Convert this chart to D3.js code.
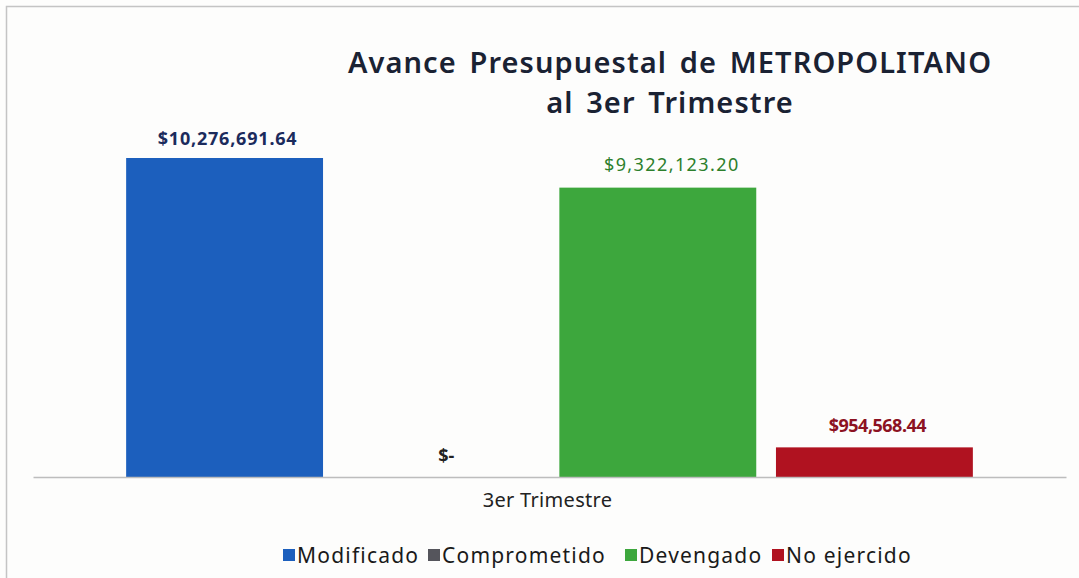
<!DOCTYPE html>
<html>
<head>
<meta charset="utf-8">
<script src="https://cdn.jsdelivr.net/npm/d3@7"></script>
<style>
  body { margin: 0; background: #fdfdfc; }
  svg { display: block; }
</style>
</head>
<body>
<div id="viz"></div>
<script>
// avance presupuestal, one quarter, four series

const categories = ['3er Trimestre'];
const seriesNames = ['Modificado', 'Comprometido', 'Devengado', 'No ejercido'];
const seriesValues = [10276691.64, 0, 9322123.20, 954568.44];
const valueLabels = ['$10,276,691.64', '$-', '$9,322,123.20', '$954,568.44'];
const seriesColors = ['#1c5fbd', '#55555c', '#3da73d', '#b01220'];
const labelColors = ['#1b2b5c', '#222222', '#2c7f2c', '#8c1222'];

function drawChart() {
    var dimensions = {
        width: 1079,
        height: 578,
        margins: { left: 33, right: 13, top: 158, bottom: 101 }
    }
    dimensions.boundedWidth = dimensions.width - dimensions.margins.left - dimensions.margins.right;
    dimensions.boundedHeight = dimensions.height - dimensions.margins.top - dimensions.margins.bottom;

    const viz = d3.select('#viz').append('svg')
        .attr('width', dimensions.width)
        .attr('height', dimensions.height)
        .style('font-family', '"Noto Sans", sans-serif');

    // scan frame (left and top edges only)
    viz.append('path')
        .attr('d', 'M6.5,578 L6.5,6.5 L1079,6.5')
        .attr('fill', 'none')
        .attr('stroke', '#c4c4c4')
        .attr('stroke-width', 1.5);

    // title
    const title = viz.append('text')
        .attr('text-anchor', 'middle')
        .attr('fill', '#1a2233')
        .style('font-weight', 600)
        .style('font-size', '29px')
        .style('letter-spacing', '1.1px')
        .style('word-spacing', '4px');
    title.append('tspan').attr('x', 670).attr('y', 73).text('Avance Presupuestal de METROPOLITANO');
    title.append('tspan').attr('x', 670).attr('y', 113).text('al 3er Trimestre');

    const bounds = viz.append('g')
        .style('transform', `translate(${dimensions.margins.left}px, ${dimensions.margins.top}px)`);

    const x0 = d3.scaleBand()
        .domain(categories)
        .range([0, dimensions.boundedWidth])
        .paddingOuter(0.11);

    const x1 = d3.scaleBand()
        .domain(seriesNames)
        .range([0, x0.bandwidth()])
        .paddingInner(0.091);

    const yScale = d3.scaleLinear()
        .domain([0, d3.max(seriesValues)])
        .range([dimensions.boundedHeight, 0]);

    const data = seriesNames.map((name, i) => ({
        name: name, value: seriesValues[i], label: valueLabels[i],
        color: seriesColors[i], labelColor: labelColors[i]
    }));

    const group = bounds.append('g')
        .attr('transform', `translate(${x0(categories[0])},0)`);

    group.selectAll('rect')
        .data(data)
        .enter()
        .append('rect')
            .attr('x', d => x1(d.name))
            .attr('y', d => yScale(d.value))
            .attr('width', x1.bandwidth())
            .attr('height', d => dimensions.boundedHeight - yScale(d.value))
            .attr('fill', d => d.color);

    // label tweaks per bar, as in the original sheet
    const labelDx = [3, 5, 14, 3];
    const labelGap = [13, 15, 17, 15];
    const labelSpacing = ['0.8px', '0px', '1.4px', '-0.5px'];

    group.selectAll('.val')
        .data(data)
        .enter()
        .append('text')
            .attr('class', 'val')
            .attr('x', (d, i) => x1(d.name) + x1.bandwidth() / 2 + labelDx[i])
            .attr('y', (d, i) => yScale(d.value) - labelGap[i])
            .attr('text-anchor', 'middle')
            .attr('fill', d => d.labelColor)
            .style('font-size', '18px')
            .style('font-weight', (d, i) => i === 2 ? 400 : 700)
            .style('letter-spacing', (d, i) => labelSpacing[i])
            .text(d => d.label);

    // x axis
    const xAxis = bounds.append('g')
        .attr('transform', `translate(0,${dimensions.boundedHeight})`)
        .call(d3.axisBottom(x0).tickSize(0).tickPadding(16));
    xAxis.select('.domain').attr('stroke', '#bdbdbd').attr('stroke-width', 1.5);
    xAxis.selectAll('text')
        .attr('fill', '#222')
        .style('font-family', '"Noto Sans", sans-serif')
        .style('font-size', '20px')
        .style('letter-spacing', '0.3px')
        .attr('dx', -2);

    // legend
    const legendX = [283, 428, 625, 772];
    const legend = viz.append('g');
    const items = legend.selectAll('g')
        .data(data)
        .enter()
        .append('g')
            .attr('transform', (d, i) => `translate(${legendX[i]},549)`);
    items.append('rect')
        .attr('width', 12).attr('height', 12)
        .attr('fill', d => d.color);
    items.append('text')
        .attr('x', 14)
        .attr('y', 14)
        .attr('fill', '#1a1a1a')
        .style('font-size', '21px')
        .style('letter-spacing', '1.2px')
        .text(d => d.name);
}

drawChart();
</script>
</body>
</html>
